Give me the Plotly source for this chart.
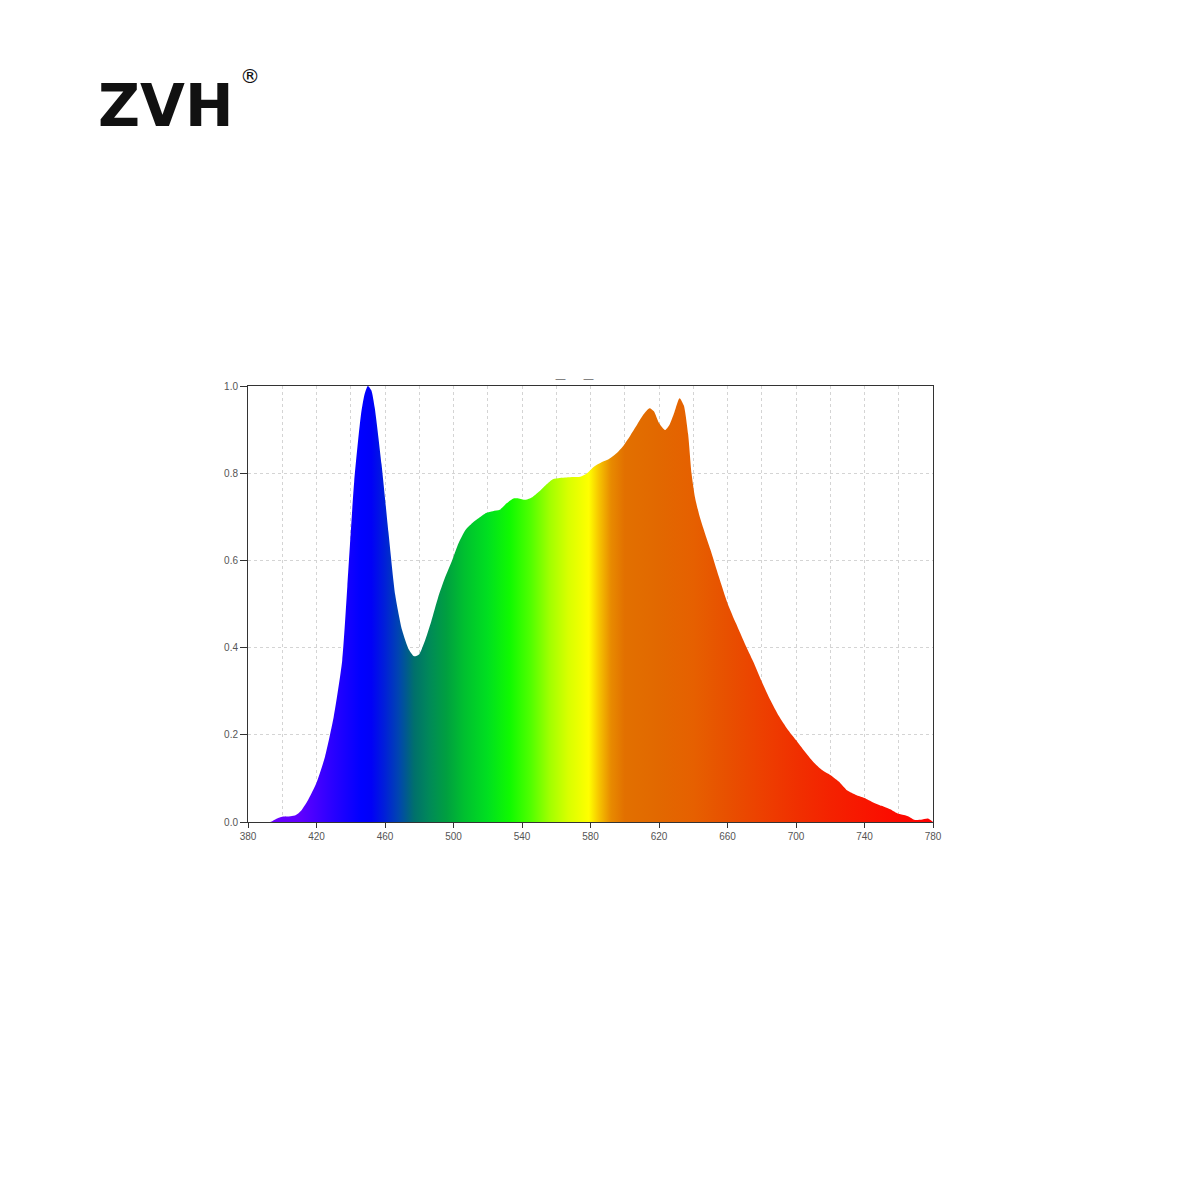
import plotly.graph_objects as go

# Wavelength (nm) and relative intensity
wavelength = [380, 385, 390, 393, 397, 400, 405, 408, 411, 415, 420, 425, 430, 435,
              438, 442, 446, 448, 450, 452, 454, 458, 462, 466, 470, 474, 477, 480,
              483, 487, 491, 495, 499, 503, 507, 511, 515, 519, 523, 527, 531, 535,
              538, 542, 546, 550, 554, 558, 562, 566, 570, 574, 578, 582, 586, 591,
              595, 599, 603, 607, 611, 614.5, 617, 620, 623.5, 626, 629, 632, 634.5,
              637, 639, 641, 644, 647, 650, 655, 660, 665, 670, 675, 680, 685, 690,
              695, 700, 705, 710, 715, 720, 725, 730, 735, 740, 745, 750, 755, 759,
              763, 766, 769, 773, 777, 780]
intensity = [0.0, 0.0, 0.0, 0.0, 0.008, 0.012, 0.013, 0.016, 0.026, 0.05, 0.09, 0.15, 0.24, 0.37,
             0.54, 0.78, 0.935, 0.98, 1.0, 0.99, 0.95, 0.82, 0.665, 0.52, 0.44, 0.395, 0.38, 0.385,
             0.412, 0.46, 0.515, 0.56, 0.598, 0.64, 0.67, 0.686, 0.698, 0.709, 0.713, 0.716, 0.731, 0.742,
             0.742, 0.739, 0.745, 0.758, 0.773, 0.786, 0.789, 0.79, 0.791, 0.792, 0.80, 0.815, 0.824, 0.833,
             0.845, 0.862, 0.885, 0.91, 0.935, 0.949, 0.942, 0.915, 0.899, 0.91, 0.94, 0.972, 0.955,
             0.89, 0.8, 0.745, 0.697, 0.66, 0.625, 0.562, 0.502, 0.455, 0.41, 0.368, 0.322, 0.28, 0.243,
             0.213, 0.188, 0.162, 0.138, 0.12, 0.108, 0.093, 0.072, 0.062, 0.055, 0.045, 0.037, 0.029, 0.02,
             0.016, 0.012, 0.005, 0.005, 0.008, 0.0]

# Spectral colour stops (wavelength -> colour)
color_nm = [380, 410, 430, 446, 452, 460, 468, 477, 486, 496, 506, 520, 533, 545, 556, 567,
            579, 585, 592, 600, 620, 640, 660, 680, 700, 720, 740, 760, 780]
color_hex = ["#7000ff", "#6000ff", "#2800ff", "#0000ff", "#0000f8", "#0020d8", "#0045b0",
             "#00706c", "#008a58", "#00a040", "#00bf30", "#00e020", "#10fa00", "#50ff00",
             "#a0ff00", "#d8ff00", "#ffff00", "#f6c400", "#e88a00", "#e27000", "#e26800",
             "#e66000", "#e85000", "#ed4000", "#f03000", "#f42200", "#f81600", "#fc0a00", "#ff0000"]

y_ticks = [0.0, 0.2, 0.4, 0.6, 0.8, 1.0]
x_ticks = [380, 420, 460, 500, 540, 580, 620, 660, 700, 740, 780]

x_min, x_max = 380, 780
colorscale = [[(w - x_min) / (x_max - x_min), c] for w, c in zip(color_nm, color_hex)]

fig = go.Figure()
fig.add_trace(go.Scatter(
    x=wavelength, y=intensity, mode="lines",
    line=dict(width=0, shape="spline", smoothing=0.6, color="rgba(0,0,0,0)"),
    fill="tozeroy",
    fillgradient=dict(type="horizontal", colorscale=colorscale, start=x_min, stop=x_max),
    hoverinfo="x+y", showlegend=False,
))

tick_font = dict(family="Liberation Sans, Arial, sans-serif", size=10, color="#555555")
grid_col = "#d4d4d4"

fig.update_layout(
    width=1200, height=1200, autosize=False,
    margin=dict(l=240, r=275, t=378, b=386),
    paper_bgcolor="white", plot_bgcolor="white",
    showlegend=False,
    xaxis=dict(
        range=[x_min, x_max], tickmode="array", tickvals=x_ticks,
        ticktext=[str(v) for v in x_ticks],
        ticks="outside", ticklen=5, tickcolor="#333333", tickwidth=1,
        tickfont=tick_font,
        showline=True, linecolor="#333333", linewidth=1, mirror=True,
        showgrid=True, gridcolor=grid_col, griddash="dot", gridwidth=1,
        minor=dict(dtick=20, showgrid=True, gridcolor=grid_col, griddash="dot", ticks=""),
        zeroline=False, fixedrange=True,
    ),
    yaxis=dict(
        range=[0, 1.0], tickmode="array", tickvals=y_ticks,
        ticktext=[f"{v:.1f}" for v in y_ticks],
        ticks="outside", ticklen=7, tickcolor="#333333", tickwidth=1,
        tickfont=tick_font,
        showline=True, linecolor="#333333", linewidth=1, mirror=True,
        showgrid=True, gridcolor=grid_col, griddash="dot", gridwidth=1,
        zeroline=False, fixedrange=True,
    ),
    annotations=[
        dict(text="<b>ZVH</b>", xref="paper", yref="paper", x=-0.2223, y=1.642,
             xanchor="left", yanchor="middle", showarrow=False,
             font=dict(family="DejaVu Sans", size=58, color="#111111")),
        dict(text="®", xref="paper", yref="paper", x=-0.0145, y=1.712,
             xanchor="left", yanchor="middle", showarrow=False,
             font=dict(family="DejaVu Sans", size=20, color="#111111")),
        dict(text="—", xref="paper", yref="paper", x=0.456, y=1.0,
             xanchor="center", yanchor="bottom", showarrow=False, yshift=-1,
             font=dict(family="DejaVu Sans", size=11, color="#666666")),
        dict(text="—", xref="paper", yref="paper", x=0.497, y=1.0,
             xanchor="center", yanchor="bottom", showarrow=False, yshift=-1,
             font=dict(family="DejaVu Sans", size=11, color="#666666")),
    ],
)

fig.write_html("out.html")
